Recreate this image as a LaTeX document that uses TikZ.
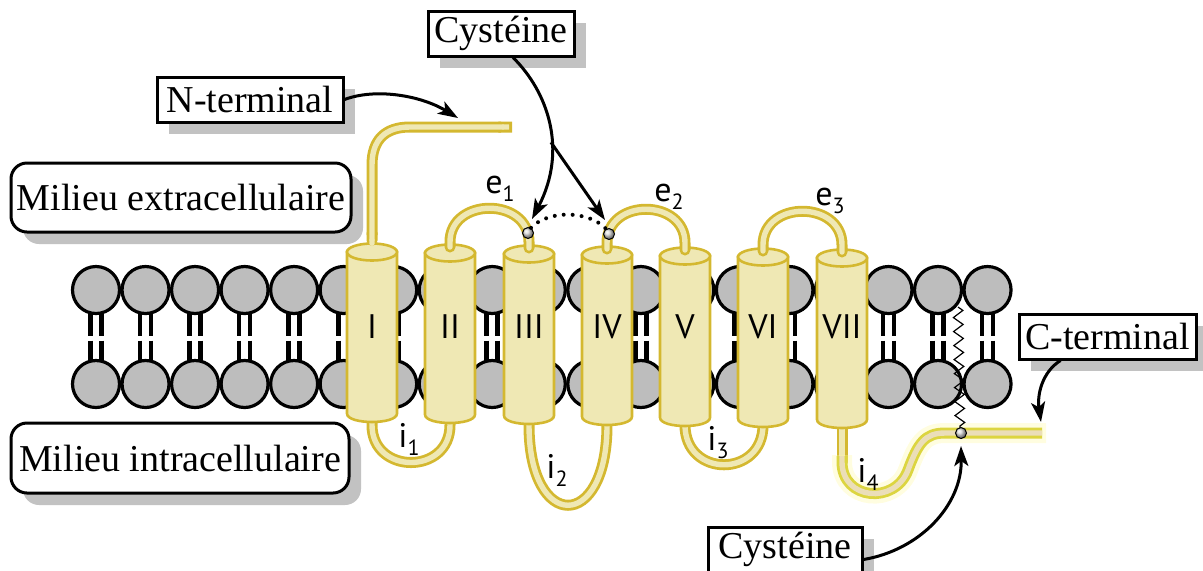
\documentclass[tikz,border=0pt]{standalone}
\usepackage{fontspec}
\setmainfont{Liberation Serif}
\newfontfamily\labfont{PT Sans}
\usetikzlibrary{arrows.meta,shadows,decorations.pathmorphing}
\definecolor{helixfill}{HTML}{EFE8B4}
\definecolor{helixline}{HTML}{D4B830}
\definecolor{glowline}{HTML}{DCD540}
\definecolor{glowfill}{HTML}{EBDEB8}
\definecolor{headgray}{HTML}{BDBDBD}
\definecolor{shadowgray}{HTML}{C2C2C2}
\newcommand{\loopname}[2]{#1\raisebox{-4pt}{\fontsize{11}{11}\selectfont #2}}

\begin{document}
\begin{tikzpicture}[x=0.5pt,y=-0.5pt,
    tag/.style={draw, line width=1.5pt, fill=white, inner sep=0pt, minimum height=22.5pt,
      font=\fontsize{19}{21}\selectfont,
      drop shadow={shadow xshift=6pt, shadow yshift=-6pt, fill=shadowgray, opacity=1}},
    zone/.style={tag, rounded corners=8pt, minimum height=34.5pt},
    head/.style={fill=headgray, draw=black, line width=1.6pt},
    tail/.style={line width=2.4pt},
    helix/.style={fill=helixfill, draw=helixline, line width=1.3pt},
    tube/.style={draw=helixline, line width=5.5pt, line cap=round,
      postaction={draw=helixfill, line width=2.7pt}},
    ntube/.style={draw=helixline, line width=5.5pt, {Round Cap[]}-{Butt Cap[]},
      postaction={draw=helixfill, line width=2.7pt, shorten >=1.5pt}},
    glowtube/.style={draw=glowline, line width=5.5pt,
      postaction={draw=glowfill, line width=2.7pt}},
    cys/.style={circle, inner sep=0pt, minimum size=5.5pt, shade, ball color=gray!30, draw=black, line width=0.5pt},
    ptr/.style={line width=1.5pt, -{Stealth[length=10pt, width=7pt, inset=2.5pt]}},
    romlab/.style={font=\labfont\fontsize{17}{19}\selectfont},
    looplab/.style={romlab, anchor=base west, inner sep=0pt}]
  \useasboundingbox (0,0) rectangle (1203,570);

  %% bilayer
  \foreach \i in {0,...,18}{
    \pgfmathsetmacro\hx{96+49.53*\i}
    \draw[tail] (\hx-5.5,310) -- (\hx-5.5,335.5) (\hx+5.5,310) -- (\hx+5.5,335.5)
      (\hx-5.5,340.5) -- (\hx-5.5,365) (\hx+5.5,340.5) -- (\hx+5.5,365);
    \filldraw[head] (\hx,290) circle[radius=23.5] (\hx,384) circle[radius=23.5];
  }

  %% intracellular loops (under the helices)
  \draw[tube] (372,414) -- (372,425) .. controls (372,475) and (450,475) .. (450,425) -- (450,415);
  \draw[tube] (529,416) -- (529,425) .. controls (529,532) and (607,532) .. (607,425) -- (607,417);
  \draw[tube] (685,418) -- (685,425) .. controls (685,478) and (763,478) .. (763,425) -- (763,419);
  \draw[tube] (842,420) -- (842,462);

  %% the seven helices
  \foreach \cx/\nm [count=\k from 0] in {372/I,450/II,529/III,607/IV,685/V,763/VI,842/VII}{
    \pgfmathsetmacro\yt{252+\k}
    \pgfmathsetmacro\yb{413.5+\k}
    \filldraw[helix] (\cx-25,\yt) -- (\cx-25,\yb) .. controls (\cx-25,\yb+11.3) and (\cx+25,\yb+11.3) .. (\cx+25,\yb) -- (\cx+25,\yt) -- cycle;
    \filldraw[helix] (\cx,\yt) ellipse[x radius=25, y radius=8.5];
    \node[romlab] (h\k) at (\cx,327) {\nm};
  }

  %% extracellular loops + N-terminal
  \draw[tube] (450,247) -- (450,242) .. controls (450,197) and (529,197) .. (529,242) -- (529,248);
  \draw[tube] (607,249) -- (607,243) .. controls (607,198) and (685,198) .. (685,243) -- (685,250);
  \draw[tube] (763,251) -- (763,245) .. controls (763,200) and (842,200) .. (842,245) -- (842,252);
  \draw[ntube] (372,246) -- (372,165) .. controls (372,140) and (385,127) .. (410,127) -- (512,127);

  %% C-terminal in the membrane
  \draw[line width=10pt, yellow!35, opacity=0.35] (842,455) -- (842,462) .. controls (842,500) and (895,505) .. (908,470)
    .. controls (918,443) and (925,433) .. (945,433) -- (1046,433);
  \draw[glowtube] (842,456) -- (842,462) .. controls (842,500) and (895,505) .. (908,470)
    .. controls (918,443) and (925,433) .. (945,433) -- (1042,433);

  \node[looplab] (e1) at (485,193) {\loopname{e}{1}};
  \node[looplab] (e2) at (654,201) {\loopname{e}{2}};
  \node[looplab] (e3) at (815,205) {\loopname{e}{3}};
  \node[looplab] (i1) at (398,447) {\loopname{i}{1}};
  \node[looplab] (i2) at (546,478) {\loopname{i}{2}};
  \node[looplab] (i3) at (707,450) {\loopname{i}{3}};
  \node[looplab] (i4) at (857,482) {\loopname{i}{4}};

  %% cysteines
  \node[cys] (cysE) at (528,233) {};
  \node[cys] (cysF) at (609,234) {};
  \draw[line width=0.6pt, decorate, decoration={zigzag, amplitude=2.4pt, segment length=7pt}] (958,307) -- (960,428);
  \node[cys] (palm) at (961,433) {};
  \draw[line width=2pt, line cap=round, dash pattern=on 0pt off 4.5pt] (cysE.60) .. controls (548,210) and (588,210) .. (cysF.120);

  %%%%%%% labels
  \node[tag, minimum width=73pt] (cysA) at (501,33.5) {Cystéine};
  \node[tag, minimum width=93pt] (nterm) at (250,99.5) {N-terminal};
  \node[zone, minimum width=170pt] (extra) at (181,197.5) {Milieu extracellulaire};
  \node[zone, minimum width=169pt, minimum height=35pt] (intra) at (180,458) {Milieu intracellulaire};
  \node[tag, minimum width=88.5pt] (cterm) at (1107.5,336.5) {C-terminal};
  \node[tag, minimum width=77pt] (cysB) at (785,549.5) {Cystéine};

  \coordinate (ntip) at (458,118);
  \coordinate (c1) at (532,219);
  \coordinate (c2) at (605,220);
  \coordinate (ctip) at (1041,422);
  \coordinate (ptip) at (961,446);

  \draw[ptr] (nterm.east) .. controls (375,88) and (420,95) .. (ntip);
  \draw[ptr] ([xshift=6pt]cysA.south) .. controls (548,92) and (568,150) .. coordinate[pos=0.6] (fork) (c1);
  \draw[ptr] (fork) -- (c2);
  \draw[ptr] ([xshift=21.5pt]cterm.south west) .. controls (1042,372) and (1037,395) .. (ctip);
  \draw[ptr] ([yshift=-5pt]cysB.east) .. controls (920,550) and (962,505) .. (ptip);
\end{tikzpicture}
\end{document}
